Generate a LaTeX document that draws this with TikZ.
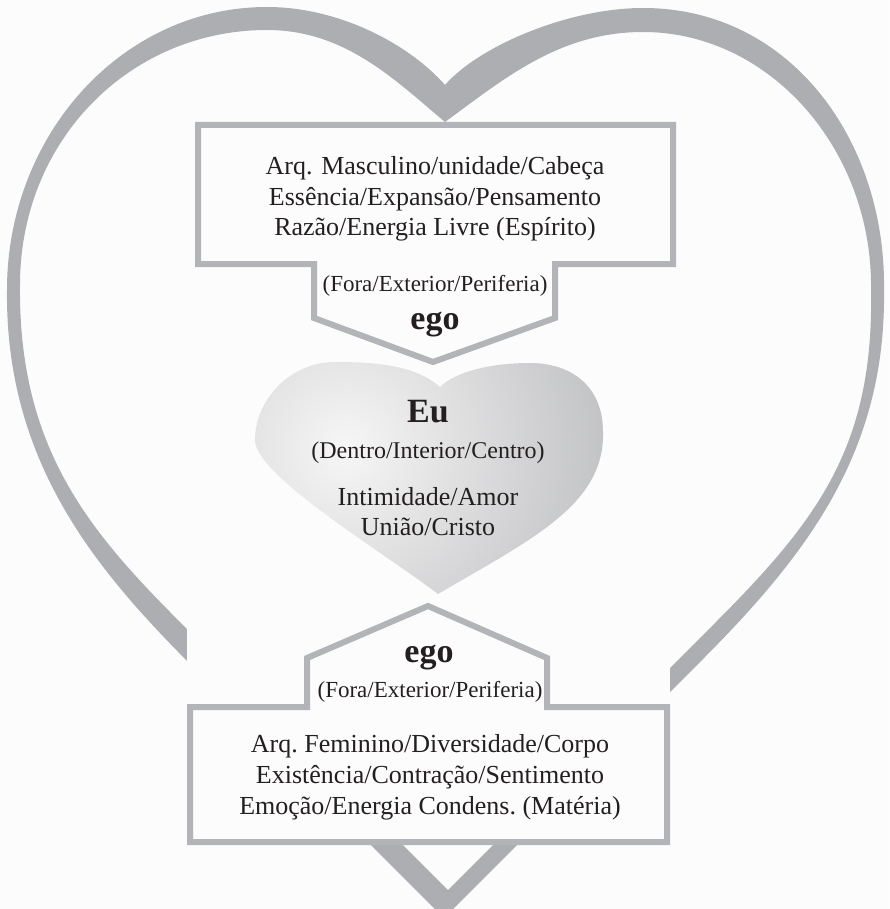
\documentclass[tikz,border=0pt]{standalone}
\usepackage{fontspec}
\setmainfont{Liberation Serif}
\definecolor{bg}{RGB}{252,252,252}
\definecolor{heartgray}{RGB}{172,174,177}
\definecolor{boxgray}{RGB}{178,180,183}
\definecolor{ink}{RGB}{35,31,32}
\definecolor{shadedark}{RGB}{148,149,153}
\definecolor{shadelight}{RGB}{246,246,246}
\begin{document}
\begin{tikzpicture}[x=1pt,y=-1pt,
  boxshape/.style={fill=bg, draw=boxgray, line width=6pt, line join=miter},
  txt/.style={text=ink, inner sep=0pt, anchor=base, font=\fontsize{26}{31}\selectfont},
  paren/.style={txt, font=\fontsize{23}{27}\selectfont},
  dentro/.style={txt, font=\fontsize{24}{28}\selectfont},
  egolbl/.style={txt, font=\fontsize{34}{40}\selectfont\bfseries},
]
% background and bounding box
\fill[bg] (0,0) rectangle (889,909);
\useasboundingbox (0,0) rectangle (889,909);

% big heart outline (filled ring)
\fill[heartgray, even odd rule]
  (444,918) -- (200,674) .. controls (105,579) and (5,470) .. (7,290)
  .. controls (7,135) and (122,7) .. (267,7)
  .. controls (340,7) and (410,45) .. (445,85)
  .. controls (480,45) and (570,8) .. (643,8)
  .. controls (790,8) and (886,140) .. (884,290)
  .. controls (886,450) and (810,552) .. (700,662) -- cycle
  (448,890) -- (215,657) .. controls (110,552) and (18,470) .. (20,285)
  .. controls (20,140) and (130,30) .. (267,30)
  .. controls (345,30) and (395,80) .. (445,122)
  .. controls (505,78) and (560,32) .. (643,32)
  .. controls (770,32) and (873,150) .. (871,290)
  .. controls (874,450) and (815,523) .. (710,628) -- cycle;

% white mask behind the lower box
\fill[bg] (187,560) rectangle (670,845);

% central shaded heart
\begin{scope}
  \clip (440,387) .. controls (415,365) and (375,362) .. (335,362)
    .. controls (290,362) and (255,400) .. (255,440)
    .. controls (255,475) and (380,550) .. (438,594)
    .. controls (530,540) and (605,505) .. (603,432)
    .. controls (603,385) and (570,363) .. (530,363)
    .. controls (490,363) and (455,372) .. (440,387) -- cycle;
  \shade[inner color=shadelight, outer color=shadedark] (345,448) circle (500pt);
\end{scope}

% upper box (arrow pointing down)
\draw[boxshape] (198,125) -- (673,125) -- (673,264) -- (555,264) -- (555,318)
  -- (433,362) -- (314,318) -- (314,264) -- (198,264) -- cycle;

% lower box (arrow pointing up)
\draw[boxshape] (428,606) -- (547,658) -- (547,707) -- (667,707) -- (667,842)
  -- (190,842) -- (190,707) -- (307,707) -- (307,658) -- cycle;

% texts of the upper box
\node[txt] (u1) at (435,175) {Arq. Masculino/unidade/Cabeça};
\node[txt] (u2) at (435,206) {Essência/Expansão/Pensamento};
\node[txt] (u3) at (435,236) {Razão/Energia Livre (Espírito)};
\node[paren] (u4) at (435,291) {(Fora/Exterior/Periferia)};
\node[egolbl] (u5) at (435,329) {ego};

% texts of the central heart
\node[egolbl] (m1) at (428,422) {Eu};
\node[dentro] (m2) at (428,458) {(Dentro/Interior/Centro)};
\node[txt] (m3) at (428,505) {Intimidade/Amor};
\node[txt] (m4) at (428,535) {União/Cristo};

% texts of the lower box
\node[egolbl] (l1) at (429,662) {ego};
\node[paren] (l2) at (430,697) {(Fora/Exterior/Periferia)};
\node[txt] (l3) at (430,752) {Arq.\ Feminino/Diversidade/Corpo};
\node[txt] (l4) at (430,783) {Existência/Contração/Sentimento};
\node[txt] (l5) at (430,814) {Emoção/Energia Condens.\ (Matéria)};
\end{tikzpicture}
\end{document}
